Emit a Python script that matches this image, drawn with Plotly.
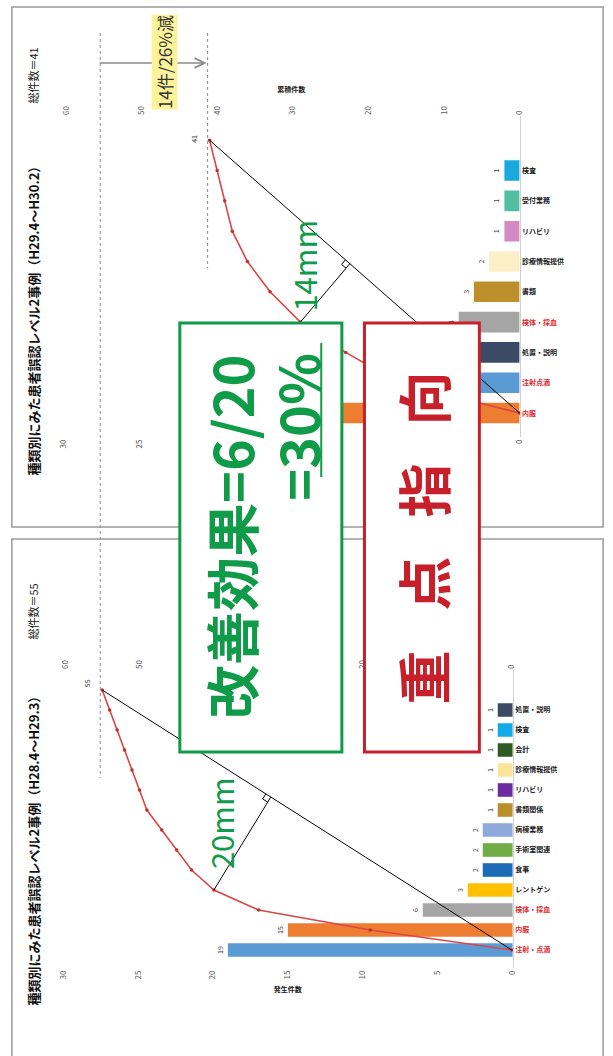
import plotly.graph_objects as go
import numpy as np

# ---------------- data ----------------
bottom_title = "種類別にみた患者誤認レベル2事例（H28.4～H29.3）"
bottom_total_label = "総件数＝55"
bottom_categories = ["注射・点滴", "内服", "検体・採血", "レントゲン", "食事", "手術室関連",
                     "病棟業務", "書類関係", "リハビリ", "診療情報提供", "会計", "検査", "処置・説明"]
bottom_counts = [19, 15, 6, 3, 2, 2, 2, 1, 1, 1, 1, 1, 1]
bottom_colors = ["#5b9bd5", "#ed7d31", "#a5a5a5", "#ffc000", "#1c6bb6", "#70ad47", "#8eaadb",
                 "#b88f2a", "#6a2c9e", "#fde49a", "#2f5a22", "#14a9e8", "#3b4a66"]
bottom_red_labels = [True, True, True] + [False] * 10

top_title = "種類別にみた患者誤認レベル2事例（H29.4～H30.2）"
top_total_label = "総件数＝41"
top_categories = ["内服", "注射点滴", "処置・説明", "検体・採血", "書類", "診療情報提供",
                  "リハビリ", "受付業務", "検査"]
top_counts = [16, 7, 6, 4, 3, 2, 1, 1, 1]
top_colors = ["#ed7d31", "#5b9bd5", "#3b4a66", "#a5a5a5", "#bf8f2c", "#fdf0c8",
              "#d48ac5", "#52bfa0", "#1aa8e0"]
top_red_labels = [True, True, False, True, False, False, False, False, False]

count_ticks = [0, 5, 10, 15, 20, 25, 30]
cum_ticks = [0, 10, 20, 30, 40, 50, 60]
count_axis_title = "発生件数"
cum_axis_title = "累積件数"
focus_items = 3            # number of categories in the 重点 group
reduction_label = "14件/26%減"
bottom_dist_label = "20mm"
top_dist_label = "14mm"
effect_line1 = "改善効果=6/20"
effect_line2 = "=30%"
focus_chars = ["重", "点", "指", "向"]

# ---------------- layout constants ----------------
W, H = 613, 1056
FONT = "Noto Sans CJK JP, Noto Sans, sans-serif"
GREEN = "#0f9b48"
RED = "#c8202a"
LINE_RED = "#dc4646"
TICK_GRAY = "#595959"


def fx(px):
    return px / W


def fy(py):
    return 1 - py / H


panels = {
    "bottom": dict(xdom=(58, 516), ydom=(670, 968), srange=(60.27, -0.13), yrange=(-0.9, 14.0),
                   xa="x", xs="x2", ya="y"),
    "top": dict(xdom=(58, 523), ydom=(116, 437), srange=(60.39, 0.0), yrange=(-0.79, 9.8),
                xa="x3", xs="x4", ya="y2"),
}


def sec_px(p, v):
    x0, x1 = p["xdom"]
    r0, r1 = p["srange"]
    return x0 + (v - r0) / (r1 - r0) * (x1 - x0)


def pos_py(p, k):
    yt, yb = p["ydom"]
    a, b = p["yrange"]
    return yb - (k - a) / (b - a) * (yb - yt)


def label_text(cats, reds):
    out = []
    for c, r in zip(cats, reds):
        col = "#e0262e" if r else "#1a1a1a"
        out.append(f'<span style="color:{col}"><b>{c}</b></span>')
    return out


def txt_ann(px, py, text, size, color, **kw):
    d = dict(x=fx(px), y=fy(py), xref="paper", yref="paper", text=text, showarrow=False,
             textangle=-90, xanchor="center", yanchor="middle",
             font=dict(size=size, color=color))
    d.update(kw)
    return d


fig = go.Figure()
shapes = []
annotations = []

datasets = {
    "bottom": (bottom_counts, bottom_colors, bottom_categories, bottom_red_labels),
    "top": (top_counts, top_colors, top_categories, top_red_labels),
}

for name, (counts, colors, cats, reds) in datasets.items():
    p = panels[name]
    n = len(counts)
    pos = list(range(n))
    cum = [0] + [int(v) for v in np.cumsum(counts)]
    cum_pos = list(range(n + 1))
    fig.add_trace(go.Bar(
        x=counts, y=pos, orientation="h", xaxis=p["xa"], yaxis=p["ya"],
        marker=dict(color=colors, line=dict(width=0)), width=0.68,
        text=[str(c) for c in counts], textposition="outside", textangle=-90,
        textfont=dict(size=7, color="#404040"), cliponaxis=False, hoverinfo="skip"))
    fig.add_trace(go.Scatter(
        x=cum, y=cum_pos, xaxis=p["xs"], yaxis=p["ya"], mode="lines+markers",
        line=dict(color=LINE_RED, width=1.6), marker=dict(size=3.5, color="#c0302c"),
        cliponaxis=False, hoverinfo="skip"))
    annotations.append(dict(
        x=cum[-1], y=cum_pos[-1], xref=p["xs"], yref=p["ya"], text=str(cum[-1]),
        showarrow=False, textangle=-90, xanchor="center", yanchor="middle",
        font=dict(size=7, color="#404040"),
        xshift=-15, yshift=7 if name == "bottom" else 1))

    # construction lines (chord + perpendicular) in pixel space
    Ax, Ay = sec_px(p, cum[-1]), pos_py(p, cum_pos[-1])
    Bx, By = sec_px(p, cum[0]), pos_py(p, cum_pos[0])
    Px, Py = sec_px(p, cum[focus_items]), pos_py(p, cum_pos[focus_items])
    d = np.array([Bx - Ax, By - Ay])
    u = d / np.linalg.norm(d)
    t = np.dot(np.array([Px - Ax, Py - Ay]), u)
    F = np.array([Ax, Ay]) + t * u
    shapes.append(dict(type="line", xref="paper", yref="paper", x0=fx(Ax), y0=fy(Ay),
                       x1=fx(Bx), y1=fy(By), line=dict(color="black", width=1)))
    shapes.append(dict(type="line", xref="paper", yref="paper", x0=fx(Px), y0=fy(Py),
                       x1=fx(F[0]), y1=fy(F[1]), line=dict(color="black", width=1)))
    v = np.array([Px, Py]) - F
    v = v / np.linalg.norm(v)
    s = 6
    c1 = F - s * u
    c2 = F - s * u + s * v
    c3 = F + s * v
    path = (f"M {fx(c1[0])} {fy(c1[1])} L {fx(c2[0])} {fy(c2[1])} L {fx(c3[0])} {fy(c3[1])}")
    shapes.append(dict(type="path", xref="paper", yref="paper", path=path,
                       line=dict(color="black", width=1)))
    p["total_px"] = Ax

# dashed reference lines and arrow
bp, tp = panels["bottom"], panels["top"]
x55 = bp["total_px"] - 2
x41 = tp["total_px"] - 2
shapes.append(dict(type="line", xref="paper", yref="paper", x0=fx(x55), x1=fx(x55),
                   y0=fy(33), y1=fy(778), line=dict(color="#8a8a8a", width=1, dash="dot")))
shapes.append(dict(type="line", xref="paper", yref="paper", x0=fx(x41), x1=fx(x41),
                   y0=fy(33), y1=fy(268), line=dict(color="#8a8a8a", width=1, dash="dot")))

# panel borders
shapes.append(dict(type="rect", xref="paper", yref="paper", x0=fx(6), x1=fx(608),
                   y0=fy(527), y1=fy(7), line=dict(color="#9a9a9a", width=1.5)))
shapes.append(dict(type="rect", xref="paper", yref="paper", x0=fx(6), x1=fx(608),
                   y0=fy(1062), y1=fy(539), line=dict(color="#9a9a9a", width=1.5)))

# overlay boxes
shapes.append(dict(type="rect", xref="paper", yref="paper", layer="above",
                   x0=fx(177), x1=fx(342), y0=fy(752), y1=fy(323),
                   fillcolor="white", line=dict(color=GREEN, width=3)))
shapes.append(dict(type="rect", xref="paper", yref="paper", layer="above",
                   x0=fx(365), x1=fx(482), y0=fy(752), y1=fy(323),
                   fillcolor="white", line=dict(color=RED, width=3)))
shapes.append(dict(type="line", xref="paper", yref="paper", layer="above",
                   x0=fx(321), x1=fx(321), y0=fy(477), y1=fy(343),
                   line=dict(color=GREEN, width=2)))

# arrow 55 -> 41
annotations.append(dict(x=fx(x41 - 1), y=fy(63), xref="paper", yref="paper",
                        ax=-(x41 - 1 - x55), ay=0, axref="pixel", ayref="pixel",
                        showarrow=True, arrowhead=5, arrowsize=1.3, arrowwidth=1.5,
                        arrowcolor="#8a8a8a", text=""))
annotations.append(txt_ann(161, 62, reduction_label, 17, "#333333",
                           bgcolor="#fdf39a", borderpad=0))

# titles
annotations.append(txt_ann(27, 848, f"<b>{bottom_title}</b>", 13, "#111111"))
annotations.append(txt_ann(27, 318, f"<b>{top_title}</b>", 13, "#111111"))
annotations.append(txt_ann(27, 612, bottom_total_label, 11, "#1a1a1a"))
annotations.append(txt_ann(27, 76, top_total_label, 11, "#1a1a1a"))

# distance labels
annotations.append(txt_ann(218, 823, bottom_dist_label, 31, GREEN))
annotations.append(txt_ann(302, 266, top_dist_label, 31, GREEN))

# effect box text
annotations.append(txt_ann(228, 537, f"<b>{effect_line1}</b>", 54, GREEN))
annotations.append(txt_ann(296, 427, f"<b>{effect_line2}</b>", 54, GREEN))
for ch, cy in zip(focus_chars, [677, 583, 490, 398]):
    annotations.append(txt_ann(424, cy, f"<b>{ch}</b>", 54, RED))

tickfont = dict(size=8, color=TICK_GRAY)
titlefont = dict(size=7, color="#1a1a1a")


def count_axis(p, anchor, show_title):
    return dict(domain=[fx(p["xdom"][0]), fx(p["xdom"][1])], range=[30, 0], anchor=anchor,
                side="bottom", tickvals=count_ticks, tickangle=-90, tickfont=tickfont,
                showgrid=False, zeroline=False, showline=False, ticks="",
                title=dict(text=f"<b>{count_axis_title}</b>" if show_title else "",
                           font=titlefont, standoff=8))


def cum_axis(p, over, anchor, show_title):
    return dict(overlaying=over, range=list(p["srange"]), anchor=anchor, side="top",
                tickvals=cum_ticks, tickangle=-90, tickfont=tickfont,
                showgrid=False, zeroline=False, showline=False, ticks="",
                title=dict(text=f"<b>{cum_axis_title}</b>" if show_title else "",
                           font=titlefont, standoff=12))


def cat_axis(p, anchor, cats, reds):
    return dict(domain=[fy(p["ydom"][1]), fy(p["ydom"][0])], range=list(p["yrange"]),
                anchor=anchor, side="right", tickvals=list(range(len(cats))),
                ticktext=label_text(cats, reds), tickfont=dict(size=7),
                showgrid=False, zeroline=False, showline=True, linecolor="#d0d0d0",
                linewidth=1, ticks="")


fig.update_layout(
    width=W, height=H, margin=dict(l=0, r=0, t=0, b=0),
    paper_bgcolor="white", plot_bgcolor="rgba(0,0,0,0)", showlegend=False,
    font=dict(family=FONT), barmode="overlay",
    xaxis=count_axis(bp, "y", True), xaxis2=cum_axis(bp, "x", "y", False),
    yaxis=cat_axis(bp, "x", bottom_categories, bottom_red_labels),
    xaxis3=count_axis(tp, "y2", False), xaxis4=cum_axis(tp, "x3", "y2", True),
    yaxis2=cat_axis(tp, "x3", top_categories, top_red_labels),
    shapes=shapes, annotations=annotations,
)

fig.write_html("out.html", config={"displayModeBar": False},
               post_script="document.body.style.margin='0px';document.body.style.overflow='hidden';")
